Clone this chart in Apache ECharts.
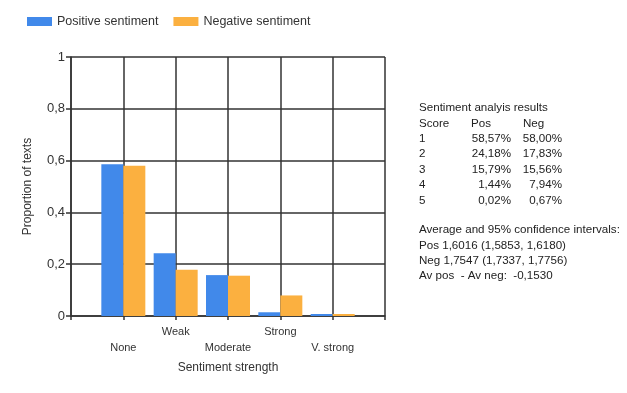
<!DOCTYPE html>
<html><head><meta charset="utf-8">
<script src="https://cdn.jsdelivr.net/npm/echarts@6/dist/echarts.min.js"></script>
<style>html,body{margin:0;padding:0;background:#fff}#c{width:627px;height:393px}</style>
</head><body><div id="c"></div>
<script>
var categories = ['', 'None', 'Weak', 'Moderate', 'Strong', 'V. strong', ''];
var scores = [1, 2, 3, 4, 5];
var posValues = [0.5857, 0.2418, 0.1579, 0.0144, 0.0002];
var negValues = [0.5800, 0.1783, 0.1556, 0.0794, 0.0067];
var yTicks = [0, 0.2, 0.4, 0.6, 0.8, 1];
var summaryLines = [
  'Average and 95% confidence intervals:',
  'Pos 1,6016 (1,5853, 1,6180)',
  'Neg 1,7547 (1,7337, 1,7756)',
  'Av pos  - Av neg:  -0,1530'
];

function pct(v){ return (v*100).toFixed(2).replace('.', ',') + '%'; }
var font = 'Arial, "Liberation Sans", sans-serif';
var tc = '#222';
var fs = 11.6;
var lh = 15.4;
var tx = 419, ty0 = 108;
var g = [];
function addText(x, y, s, align){
  g.push({type:'text', x: x, y: y, silent: true,
    style:{text: s, fill: tc, font: fs + 'px ' + font, align: align || 'left', verticalAlign:'middle'}});
}
addText(tx, ty0, 'Sentiment analyis results');
addText(tx, ty0 + lh, 'Score');
addText(471, ty0 + lh, 'Pos');
addText(523, ty0 + lh, 'Neg');
for (var i = 0; i < scores.length; i++) {
  var y = ty0 + lh * (i + 2);
  addText(tx, y, String(scores[i]));
  addText(511, y, pct(posValues[i]), 'right');
  addText(562, y, pct(negValues[i]), 'right');
}
for (var j = 0; j < summaryLines.length; j++) {
  addText(tx, 230 + lh * j, summaryLines[j]);
}

var chart = echarts.init(document.getElementById('c'), null, {renderer:'canvas'});
var lineC = '#333';
chart.setOption({
  animation: false,
  textStyle: {fontFamily: font},
  legend: {
    left: 22, top: 10, itemWidth: 25, itemHeight: 9, itemGap: 15,
    icon: 'rect',
    textStyle: {fontSize: 12.5, color: '#333', fontFamily: font},
    data: ['Positive sentiment', 'Negative sentiment']
  },
  grid: {left: 71, right: 242, top: 57, bottom: 77, containLabel: false},
  xAxis: {
    type: 'category', data: categories, boundaryGap: false,
    name: 'Sentiment strength', nameLocation: 'middle', nameGap: 46,
    nameTextStyle: {fontSize: 12, color: '#333', fontFamily: font},
    axisLine: {lineStyle: {color: lineC, width: 1.5}},
    axisTick: {show: true, length: 4, interval: 0, lineStyle: {color: lineC, width: 1.5}},
    axisLabel: {interval: 0, margin: 8, fontSize: 11, color: '#333', lineHeight: 16,
      formatter: function(v, idx){ return (idx % 2 === 1) ? '\n' + v : v; }},
    splitLine: {show: true, interval: 0, lineStyle: {color: lineC, width: 1.5}}
  },
  yAxis: {
    type: 'value', min: 0, max: 1, interval: 0.2,
    name: 'Proportion of texts', nameLocation: 'middle', nameGap: 37, nameRotate: 90,
    nameTextStyle: {fontSize: 12, color: '#333', fontFamily: font},
    axisLine: {show: true, lineStyle: {color: lineC, width: 1.5}},
    axisTick: {show: true, length: 5, lineStyle: {color: lineC, width: 1.5}},
    axisLabel: {fontSize: 13, color: '#333', margin: 6,
      formatter: function(v){ return String(Math.round(v*10)/10).replace('.', ','); }},
    splitLine: {show: true, lineStyle: {color: lineC, width: 1.5}}
  },
  series: [
    {name: 'Positive sentiment', type: 'bar', barWidth: 22, barGap: '0%', barMinHeight: 2,
     itemStyle: {color: '#4189EA'},
     data: [null].concat(posValues).concat([null])},
    {name: 'Negative sentiment', type: 'bar', barWidth: 22, barGap: '0%', barMinHeight: 2,
     itemStyle: {color: '#FBB040'},
     data: [null].concat(negValues).concat([null])}
  ],
  graphic: g
});
</script></body></html>
